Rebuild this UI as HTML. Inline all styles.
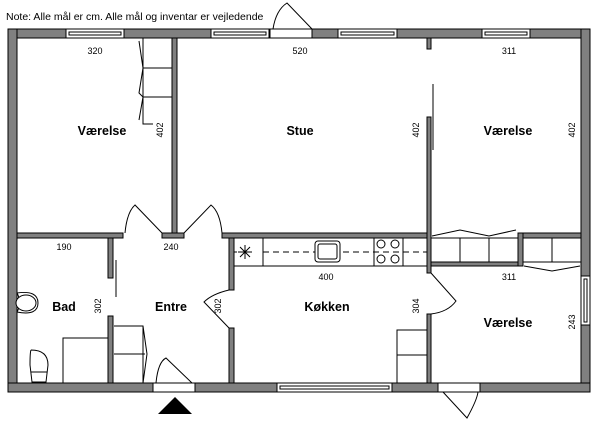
<!DOCTYPE html>
<html><head><meta charset="utf-8"><style>
html,body{margin:0;padding:0;background:#fff;width:600px;height:426px;overflow:hidden}
svg{display:block}
text{font-family:"Liberation Sans",sans-serif}
.w{fill:#808080;stroke:#000;stroke-width:1}
.l{fill:none;stroke:#000;stroke-width:1}
.c{fill:#fff;stroke:#000;stroke-width:1}
.n{font-size:9px;text-anchor:middle}
.r{font-size:12.5px;font-weight:bold;text-anchor:middle}
</style></head><body>
<svg width="600" height="426" viewBox="0 0 600 426" xmlns="http://www.w3.org/2000/svg">
<text x="6" y="20" font-size="10.5">Note: Alle mål er cm. Alle mål og inventar er vejledende</text>
<!-- outer walls -->
<rect class="w" x="8" y="29" width="58" height="9"/>
<rect class="w" x="124" y="29" width="87" height="9"/>
<rect class="w" x="312" y="29" width="26" height="9"/>
<rect class="w" x="397" y="29" width="85" height="9"/>
<rect class="w" x="530" y="29" width="60" height="9"/>
<rect class="w" x="8" y="29" width="9" height="363"/>
<rect class="w" x="581" y="29" width="9" height="247"/>
<rect class="w" x="581" y="325" width="9" height="67"/>
<rect class="w" x="8" y="383" width="145" height="9"/>
<rect class="w" x="195" y="383" width="82" height="9"/>
<rect class="w" x="392" y="383" width="46" height="9"/>
<rect class="w" x="480" y="383" width="110" height="9"/>
<!-- windows -->
<g class="c">
<rect x="66" y="29" width="58" height="9"/><rect x="69" y="32" width="52" height="3"/>
<rect x="211" y="29" width="58" height="9"/><rect x="214" y="32" width="52" height="3"/>
<rect x="338" y="29" width="59" height="9"/><rect x="341" y="32" width="53" height="3"/>
<rect x="482" y="29" width="48" height="9"/><rect x="485" y="32" width="42" height="3"/>
<rect x="277" y="383" width="115" height="9"/><rect x="280" y="386" width="109" height="3"/>
<rect x="581" y="276" width="9" height="49"/><rect x="584" y="279" width="3" height="43"/>
</g>
<!-- doors outer -->
<rect class="c" x="270" y="29" width="42" height="9"/>
<path class="l" d="M273 29 Q276 10 287 3 L312 29"/>
<rect class="c" x="153" y="383" width="42" height="9"/>
<path class="l" d="M156 383 Q158 362 166 358 L192 383"/>
<rect class="c" x="438" y="383" width="42" height="9"/>
<path class="l" d="M443 392 L467 418 Q477 400 478 392"/>
<!-- interior walls -->
<rect class="w" x="172" y="38" width="5" height="195"/>
<rect class="w" x="17" y="233" width="106" height="5"/>
<rect class="w" x="162" y="233" width="22" height="5"/>
<rect class="w" x="222" y="233" width="205" height="5"/>
<rect class="w" x="427" y="117" width="4" height="156"/>
<rect class="w" x="427" y="38" width="4" height="11"/>
<rect class="w" x="427" y="314" width="4" height="69"/>
<rect class="w" x="431" y="262" width="89" height="4"/>
<rect class="w" x="518" y="233" width="5" height="33"/>
<rect class="w" x="523" y="233" width="58" height="5"/>
<rect class="w" x="229" y="238" width="5" height="52"/>
<rect class="w" x="229" y="328" width="5" height="55"/>
<rect class="w" x="108" y="238" width="5" height="40"/>
<rect class="w" x="108" y="316" width="5" height="67"/>
<!-- interior doors -->
<path class="l" d="M162 233 L135 205 Q127 212 125 233"/>
<path class="l" d="M184 233 L211 205 Q220 212 222 233"/>
<path class="l" d="M229 290 Q212 294 204 302 L229 328"/>
<path class="l" d="M431 273 L456 301 Q448 312 431 314"/>
<line class="l" x1="116" y1="260" x2="116" y2="297"/>
<line class="l" x1="433" y1="84" x2="433" y2="150"/>
<!-- wardrobe top-left -->
<path class="l" d="M143 38 V124 H153 M143 68 H172 M143 97 H172 M139 41 L143 68 L139 93 L143 97 L139 120"/>
<!-- kitchen counter -->
<rect class="c" x="234" y="238" width="193" height="28"/>
<line class="l" x1="263" y1="238" x2="263" y2="266"/>
<line class="l" x1="374" y1="238" x2="374" y2="266"/>
<line class="l" x1="403" y1="238" x2="403" y2="266"/>
<line x1="263" y1="252" x2="427" y2="252" stroke="#000" stroke-dasharray="6,4"/>
<line x1="234" y1="252" x2="237" y2="252" stroke="#000"/>
<path class="l" d="M240 247 L250 257 M250 247 L240 257 M245 245 V259 M238 252 H252"/>
<rect class="c" x="315" y="241" width="25" height="21" rx="3"/>
<rect class="c" x="318" y="244" width="19" height="15" rx="2"/>
<g class="c"><circle cx="381" cy="244" r="4"/><circle cx="395" cy="244" r="4"/><circle cx="381" cy="259" r="4"/><circle cx="395" cy="259" r="4"/></g>
<!-- wardrobes right -->
<path class="l" d="M431 238 H518 M460 238 V262 M489 238 V262 M432 236 L460 230 L489 236 L516 230"/>
<path class="l" d="M523 262 H581 M552 238 V262 M524 266 L552 271 L580 266"/>
<!-- kitchen cabinet lower -->
<path class="l" d="M397 383 V330 H427 M397 355 H427"/>
<!-- Entre cabinet -->
<path class="l" d="M114 326 H143 L147 354 L143 383 M114 354 H145 M143 326 V383"/>
<!-- bad -->
<path class="l" d="M63 383 V338 H108"/>
<path class="l" d="M17 293 A21 20 0 0 1 17 312"/>
<path class="l" d="M17 293 Q38 290 38 303 Q38 316 17 312"/>
<ellipse class="c" cx="26" cy="303" rx="10" ry="8"/>
<path class="l" d="M31 350 Q48 350 48 365 L46 382 H32 L30 365 Q30 352 31 350 M31 372 H47"/>
<!-- entrance triangle -->
<polygon points="158,414 192,414 175,397" fill="#000"/>
<!-- labels -->
<g class="r">
<text x="102" y="135">Værelse</text>
<text x="300" y="135">Stue</text>
<text x="508" y="135">Værelse</text>
<text x="64" y="311">Bad</text>
<text x="171" y="311">Entre</text>
<text x="327" y="311">Køkken</text>
<text x="508" y="327">Værelse</text>
</g>
<g class="n">
<text x="95" y="54">320</text>
<text x="300" y="54">520</text>
<text x="509" y="54">311</text>
<text x="64" y="250">190</text>
<text x="171" y="250">240</text>
<text x="326" y="280">400</text>
<text x="509" y="280">311</text>
<text transform="translate(163,130) rotate(-90)">402</text>
<text transform="translate(419,130) rotate(-90)">402</text>
<text transform="translate(575,130) rotate(-90)">402</text>
<text transform="translate(101,306) rotate(-90)">302</text>
<text transform="translate(221,306) rotate(-90)">302</text>
<text transform="translate(419,306) rotate(-90)">304</text>
<text transform="translate(575,322) rotate(-90)">243</text>
</g>
</svg>
</body></html>
